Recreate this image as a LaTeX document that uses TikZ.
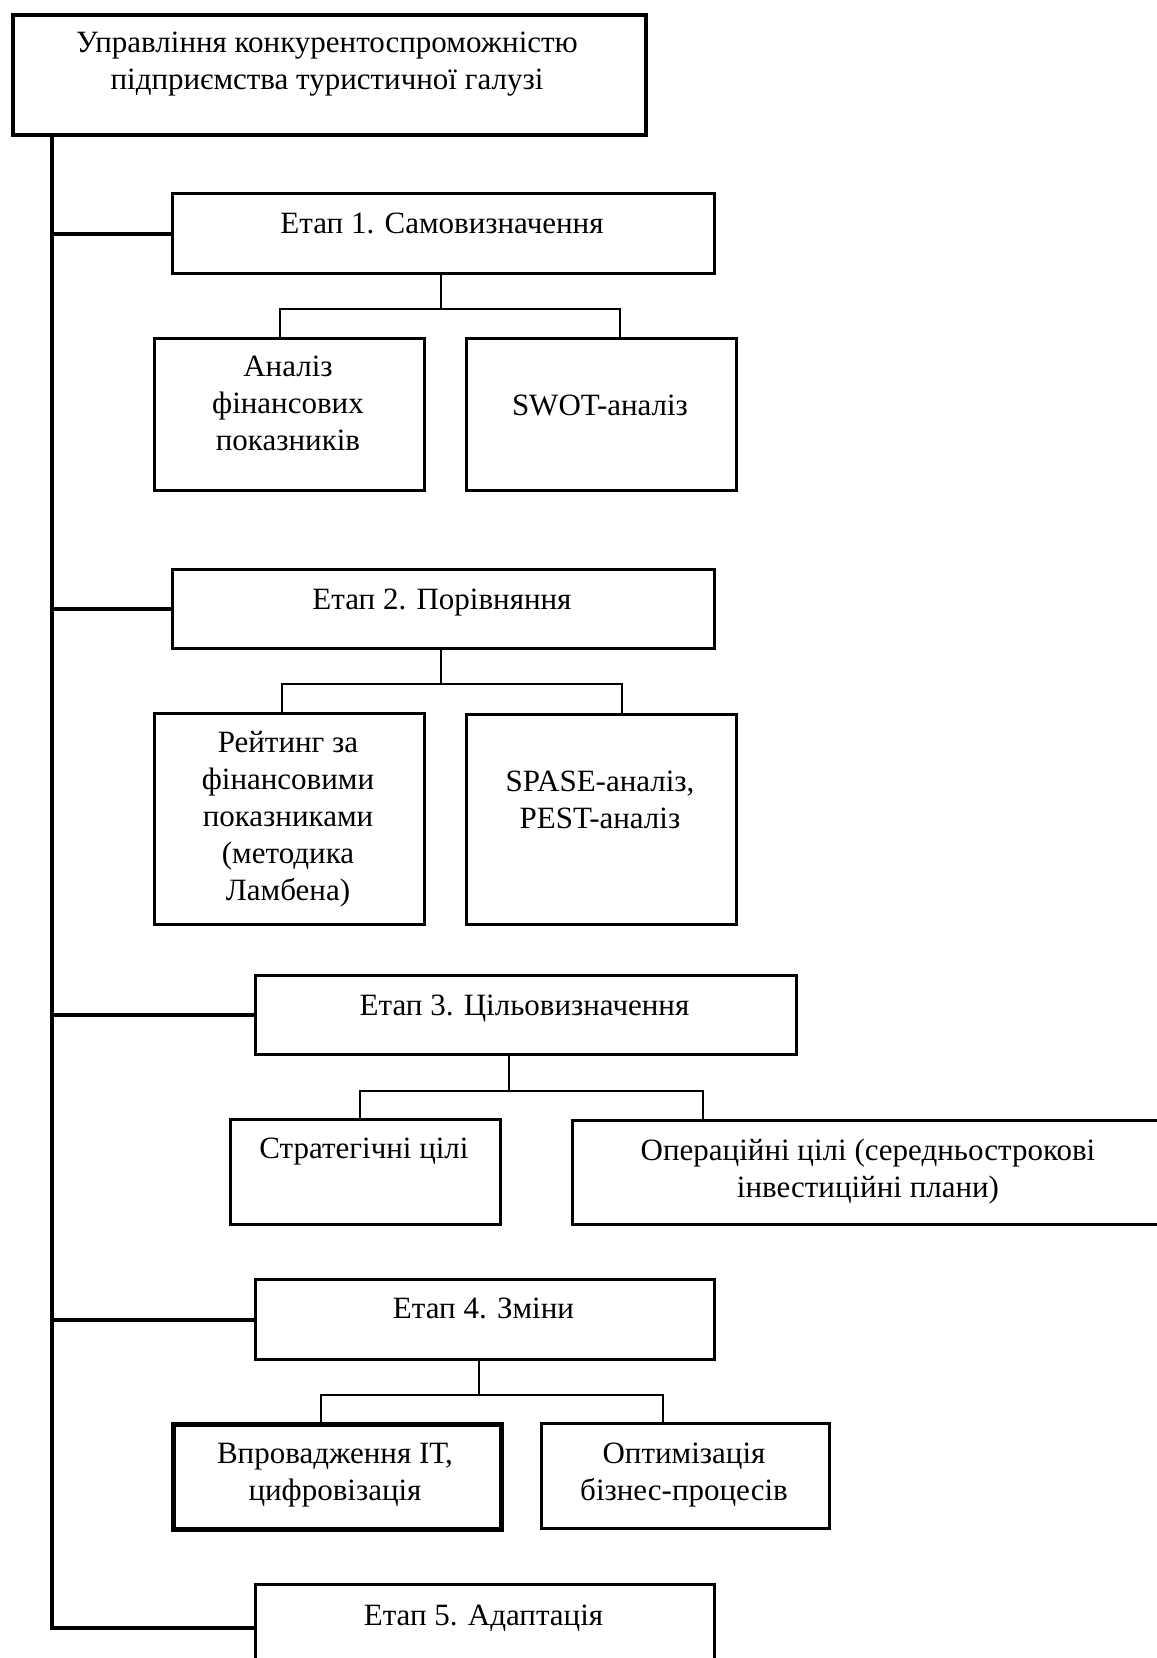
\documentclass[tikz,border=0pt]{standalone}
\usepackage{fontspec}
\setmainfont{Liberation Serif}
\begin{document}
\begin{tikzpicture}[x=1pt,y=-1pt,
  txt/.style={font=\fontsize{31}{36.8}\selectfont, align=center, anchor=base, inner sep=0pt},
  box/.style={draw, line width=2.8pt, anchor=north west, inner sep=0pt, line join=miter},
  stagebox/.style={box, line width=3pt},
  topbox/.style={box, line width=4pt},
  thickbox/.style={box, line width=4.5pt},
  trunk/.style={line width=4pt, line join=miter},
  sub/.style={line width=2.8pt, line join=miter}]
\useasboundingbox (0,0) rectangle (1157,1658);
\clip (0,0) rectangle (1157,1658);
\fill[white] (0,0) rectangle (1157,1658);

% top box
\node[topbox, minimum width=633.5pt, minimum height=120pt] (top) at (10.5,13) {};
\node[txt] (toptxt) at (327,89) {Управління конкурентоспроможністю\\підприємства туристичної галузі};

% stage boxes
\node[stagebox, minimum width=542pt, minimum height=80pt] (e1) at (171,192) {};
\node[txt] (e1t) at (442,233) {Етап 1. Самовизначення};
\node[stagebox, minimum width=542pt, minimum height=79pt] (e2) at (171,568) {};
\node[txt] (e2t) at (442,609) {Етап 2. Порівняння};
\node[stagebox, minimum width=541pt, minimum height=79pt] (e3) at (254,974) {};
\node[txt] (e3t) at (524.5,1015) {Етап 3. Цільовизначення};
\node[stagebox, minimum width=459pt, minimum height=80pt] (e4) at (254,1278) {};
\node[txt] (e4t) at (483.5,1318) {Етап 4. Зміни};
\node[stagebox, minimum width=459pt, minimum height=86pt] (e5) at (254,1583) {};
\node[txt] (e5t) at (483.5,1625) {Етап 5. Адаптація};

% children of stage 1
\node[box, minimum width=270pt, minimum height=152pt] (c1a) at (153,337) {};
\node[txt] (c1at) at (288,450) {Аналіз\\фінансових\\показників};
\node[box, minimum width=270pt, minimum height=152pt] (c1b) at (465,337) {};
\node[txt] (c1bt) at (600,415) {SWOT-аналіз};

% children of stage 2
\node[box, minimum width=270pt, minimum height=211pt] (c2a) at (153,712) {};
\node[txt] (c2at) at (288,900) {Рейтинг за\\фінансовими\\показниками\\(методика\\Ламбена)};
\node[box, minimum width=270pt, minimum height=210pt] (c2b) at (465,713) {};
\node[txt] (c2bt) at (600,828) {SPASE-аналіз,\\PEST-аналіз};

% children of stage 3
\node[box, minimum width=270pt, minimum height=105pt] (c3a) at (229,1118) {};
\node[txt] (c3at) at (364,1158) {Стратегічні цілі};
\node[box, minimum width=594pt, minimum height=104pt] (c3b) at (571,1119) {};
\node[txt] (c3bt) at (868,1197) {Операційні цілі (середньострокові\\інвестиційні плани)};

% children of stage 4
\node[thickbox, minimum width=328pt, minimum height=105pt] (c4a) at (171,1422) {};
\node[txt] (c4at) at (335,1500) {Впровадження ІТ,\\цифровізація};
\node[box, minimum width=288pt, minimum height=105pt] (c4b) at (540,1422) {};
\node[txt] (c4bt) at (684,1500) {Оптимізація\\бізнес-процесів};

% junction coordinates
\coordinate (tr) at (52,0);
\coordinate (j1) at (441,309); \coordinate (j1l) at (280,309); \coordinate (j1r) at (620,309);
\coordinate (j2) at (441,684); \coordinate (j2l) at (282,684); \coordinate (j2r) at (622,684);
\coordinate (j3) at (509,1091); \coordinate (j3l) at (360,1091); \coordinate (j3r) at (703,1091);
\coordinate (j4) at (479,1395); \coordinate (j4l) at (321,1395); \coordinate (j4r) at (663,1395);

% trunk and branches
\draw[trunk] (tr |- top.south) -- (tr |- e5.west) -- (e5.west);
\draw[trunk] (tr |- e1.west) -- (e1.west);
\draw[trunk] (tr |- e2.west) -- (e2.west);
\draw[trunk] (tr |- e3.west) -- (e3.west);
\draw[trunk] (tr |- e4.west) -- (e4.west);

% sub connectors
\draw[sub] (j1 |- e1.south) -- (j1);
\draw[sub] (j1l |- c1a.north) -- (j1l) -- (j1r) -- (j1r |- c1b.north);
\draw[sub] (j2 |- e2.south) -- (j2);
\draw[sub] (j2l |- c2a.north) -- (j2l) -- (j2r) -- (j2r |- c2b.north);
\draw[sub] (j3 |- e3.south) -- (j3);
\draw[sub] (j3l |- c3a.north) -- (j3l) -- (j3r) -- (j3r |- c3b.north);
\draw[sub] (j4 |- e4.south) -- (j4);
\draw[sub] (j4l |- c4a.north) -- (j4l) -- (j4r) -- (j4r |- c4b.north);
\end{tikzpicture}
\end{document}
